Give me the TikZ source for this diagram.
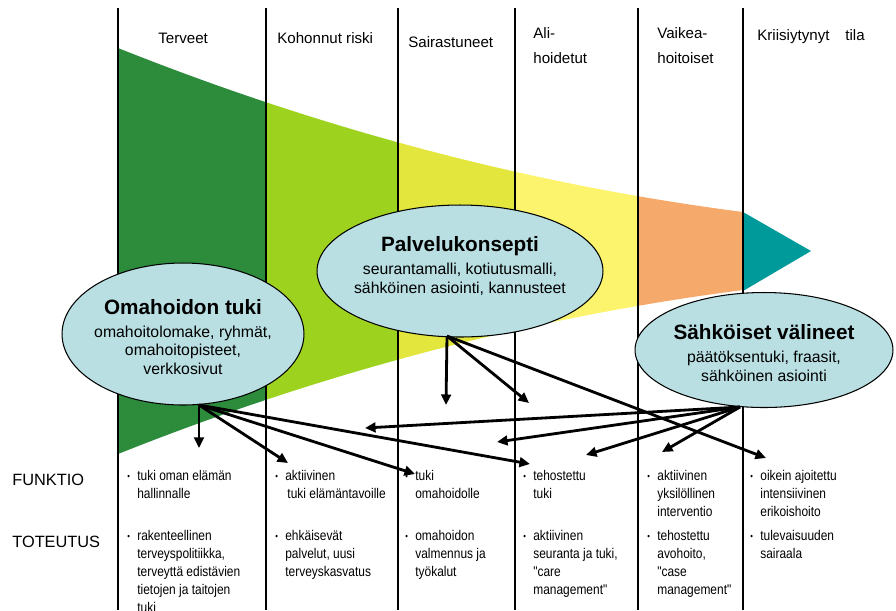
\documentclass[tikz,border=0pt]{standalone}
\usepackage{fontspec}
\setmainfont{Liberation Sans}
\newfontfamily\narrowsans[FakeStretch=0.85]{Liberation Sans}
\usetikzlibrary{arrows.meta,positioning,shapes.geometric}
\definecolor{darkGreen}{HTML}{2D8C3C}
\definecolor{limeGreen}{HTML}{9DD31E}
\definecolor{oliveYellow}{HTML}{E3E63C}
\definecolor{paleYellow}{HTML}{FCF46C}
\definecolor{softOrange}{HTML}{F5AA6C}
\definecolor{tealTip}{HTML}{009A9A}
\definecolor{bubbleBlue}{HTML}{B9DFE3}
\newcommand{\dotmark}{\llap{{\fontsize{5}{5}\selectfont\raisebox{0.6pt}{•}}\hspace{4.2pt}}}

\begin{document}
\begin{tikzpicture}[
  x=0.02cm, y=-0.02cm,
  every node/.style={inner sep=0pt},
  header/.style={font=\fontsize{8.6}{14.2}\selectfont, align=left, anchor=west},
  rowlabel/.style={font=\fontsize{9.3}{11}\selectfont, anchor=west},
  cell/.style={font=\narrowsans\fontsize{8}{10.2}\selectfont, align=left, anchor=north west},
  bubble/.style={ellipse, draw=black, line width=0.6pt, fill=bubbleBlue},
  bubbletext/.style={align=center, font=\fontsize{9}{10.6}\selectfont},
  colline/.style={line width=1.1pt},
  arrow/.style={-{Triangle[length=6pt,width=5.5pt]}, line width=1.6pt}
]
\useasboundingbox (0,0) rectangle (896,610);

% Suppilo: yksi väri per sarake
\begin{scope}
  \clip (118,48) .. controls (326,131) and (534,185) .. (743,212)
     -- (743,290) .. controls (534,317) and (326,371) .. (118,454) -- cycle;
  \fill[darkGreen]   (118,0) rectangle (266,610);
  \fill[limeGreen]   (266,0) rectangle (398,610);
  \fill[oliveYellow] (398,0) rectangle (515,610);
  \fill[paleYellow]  (515,0) rectangle (638,610);
  \fill[softOrange]  (638,0) rectangle (743,610);
\end{scope}
\fill[tealTip] (743,212) -- (811,251) -- (743,291) -- cycle;

% Sarakeviivat
\foreach \x in {118,266,398,515,638,743}
  \draw[colline] (\x,8) -- (\x,610);

% Otsikot
\node[header] (hTerveet) at (158,38) {Terveet};
\node[header] (hRiski) at (277,38) {Kohonnut riski};
\node[header] (hSairas) at (408,42) {Sairastuneet};
\node[header] (hAli) at (533,46) {Ali-\\hoidetut};
\node[header] (hVaikea) at (657,46) {Vaikea-\\hoitoiset};
\node[header] (hKriisi) at (757,37) {Kriisiytynyt\hspace{9pt}tila};

% Rivit
\node[rowlabel] (funktio) at (12,480) {FUNKTIO};
\node[rowlabel] (toteutus) at (12,542) {TOTEUTUS};

\node[cell] (f1) at (137,470) {\dotmark tuki oman elämän\\hallinnalle};
\node[cell] (f2) at (285,470) {\dotmark aktiivinen\\\hspace{1.2pt}tuki elämäntavoille};
\node[cell] (f3) at (415,470) {\dotmark tuki\\omahoidolle};
\node[cell] (f4) at (533,470) {\dotmark tehostettu\\tuki};
\node[cell] (f5) at (657,470) {\dotmark aktiivinen\\yksilöllinen\\interventio};
\node[cell] (f6) at (760,470) {\dotmark oikein ajoitettu\\intensiivinen\\erikoishoito};

\node[cell] (t1) at (137,530) {\dotmark rakenteellinen\\terveyspolitiikka,\\terveyttä edistävien\\tietojen ja taitojen\\tuki};
\node[cell] (t2) at (285,530) {\dotmark ehkäisevät\\palvelut, uusi\\terveyskasvatus};
\node[cell] (t3) at (415,530) {\dotmark omahoidon\\valmennus ja\\työkalut};
\node[cell] (t4) at (533,530) {\dotmark aktiivinen\\seuranta ja tuki,\\"care\\management"};
\node[cell] (t5) at (657,530) {\dotmark tehostettu\\avohoito,\\"case\\management"};
\node[cell] (t6) at (760,530) {\dotmark tulevaisuuden\\sairaala};

% Kuplat
\node[bubble, minimum width=4.84cm, minimum height=2.84cm] (oma) at (183,334) {};
\node[bubbletext] (omaText) at (183,337) {{\fontsize{11.8}{14}\selectfont\bfseries Omahoidon tuki}\\[2.5pt]omahoitolomake, ryhmät,\\omahoitopisteet,\\verkkosivut};
\node[bubble, minimum width=5.72cm, minimum height=2.64cm] (pal) at (460,271) {};
\node[bubbletext] (palText) at (460,266) {{\fontsize{11.8}{14}\selectfont\bfseries Palvelukonsepti}\\[2.5pt]seurantamalli, kotiutusmalli,\\sähköinen asiointi, kannusteet};
\node[bubble, minimum width=5.16cm, minimum height=2.3cm] (sah) at (764,350) {};
\node[bubbletext] (sahText) at (764,353) {{\fontsize{11.8}{14}\selectfont\bfseries Sähköiset välineet}\\[2.5pt]päätöksentuki, fraasit,\\sähköinen asiointi};

% Nuolten päät
\coordinate (omaOut) at (199,405);
\coordinate (palOut) at (447,336);
\coordinate (sahOut) at (740,407);
\coordinate (omaA) at (199,448);
\coordinate (omaB) at (288,463);
\coordinate (omaC) at (415,474);
\coordinate (omaD) at (530,464);
\coordinate (palA) at (446,405);
\coordinate (palB) at (529,403);
\coordinate (palC) at (766,458);
\coordinate (sahA) at (365,428);
\coordinate (sahB) at (497,442);
\coordinate (sahC) at (586,455);
\coordinate (sahD) at (662,452);

% Nuolet
\draw[arrow] (omaOut) -- (omaA);
\draw[arrow] (omaOut) -- (omaB);
\draw[arrow] (omaOut) -- (omaC);
\draw[arrow] (omaOut) -- (omaD);
\draw[arrow] (palOut) -- (palA);
\draw[arrow] (palOut) -- (palB);
\draw[arrow] (palOut) -- (palC);
\draw[arrow] (sahOut) -- (sahA);
\draw[arrow] (sahOut) -- (sahB);
\draw[arrow] (sahOut) -- (sahC);
\draw[arrow] (sahOut) -- (sahD);
\end{tikzpicture}
\end{document}
